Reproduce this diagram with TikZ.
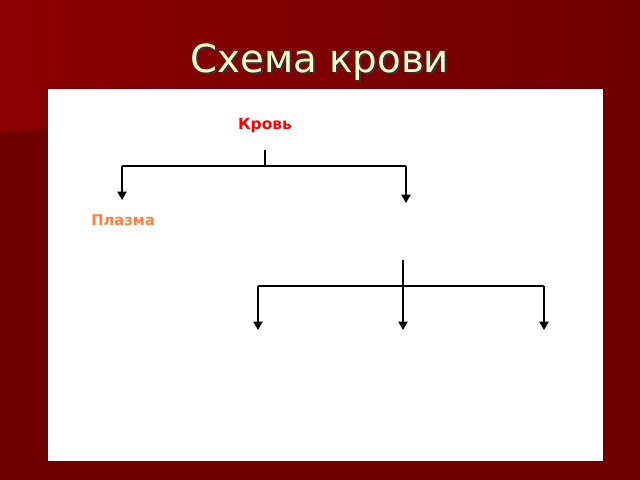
\documentclass[tikz,border=0pt]{standalone}
\usepackage{fontspec}
\usepackage{xcolor}
\setmainfont{DejaVu Sans}
\usetikzlibrary{arrows.meta}

\definecolor{bgdark}{HTML}{700000}
\definecolor{bglight}{HTML}{8C0000}
\definecolor{titlecol}{HTML}{FFFFCC}
\definecolor{bloodred}{HTML}{FF0000}
\definecolor{plasmacol}{HTML}{FF7F3F}

\tikzset{
    branch/.style={line width=1.4pt, -{Triangle[width=6.5pt,length=6pt]}},
    stem/.style={line width=1.4pt},
    label/.style={inner sep=0pt, font=\bfseries\fontsize{11}{13}\selectfont},
}

\begin{document}
\begin{tikzpicture}[x=0.025cm, y=-0.025cm]
        % background
        \fill[bgdark] (0,0) rectangle (640,480);
        \shade[left color=bglight, right color=bgdark] (0,0) -- (640,0) -- (640,80) .. controls (300,95) and (100,125) .. (0,133) -- cycle;
        \fill[white] (48,89) rectangle (603,461);
        \useasboundingbox (0,0) rectangle (640,480);

        % title
        \node[text=black!80, font=\fontsize{27.5}{32}\selectfont] at (322,64) {Схема крови};
        \node[text=titlecol, font=\fontsize{27.5}{32}\selectfont] (title) at (320,62) {Схема крови};

        % top tree
        \node[label, text=bloodred] (blood) at (265,125) {Кровь};
        \node[label, text=plasmacol, anchor=west, font=\bfseries\fontsize{10.5}{13}\selectfont] (plasma) at (91,220) {Плазма};
        \coordinate (b0) at (265,150);
        \coordinate (b1) at (265,166);
        \coordinate (bl) at (122,166);
        \coordinate (br) at (406,166);
        \coordinate (al) at (122,200);
        \coordinate (ar) at (406,203);

        \draw[stem] (b0) -- (b1);
        \draw[stem] (bl) -- (br);
        \draw[branch] (bl) -- (al); % to plasma
        \draw[branch] (br) -- (ar);

        % lower tree
        \coordinate (c0) at (403,260);
        \coordinate (cl) at (258,286);
        \coordinate (cm) at (403,286);
        \coordinate (cr) at (544,286);
        \coordinate (dl) at (258,330);
        \coordinate (dm) at (403,330);
        \coordinate (dr) at (544,330);

        \draw[stem] (c0) -- (cm);
        \draw[stem, line width=1.8pt] (cl) -- (cr);
        \draw[branch] (cl) -- (dl);
        \draw[branch] (cm) -- (dm);
        \draw[branch] (cr) -- (dr);
    \end{tikzpicture}
\end{document}
